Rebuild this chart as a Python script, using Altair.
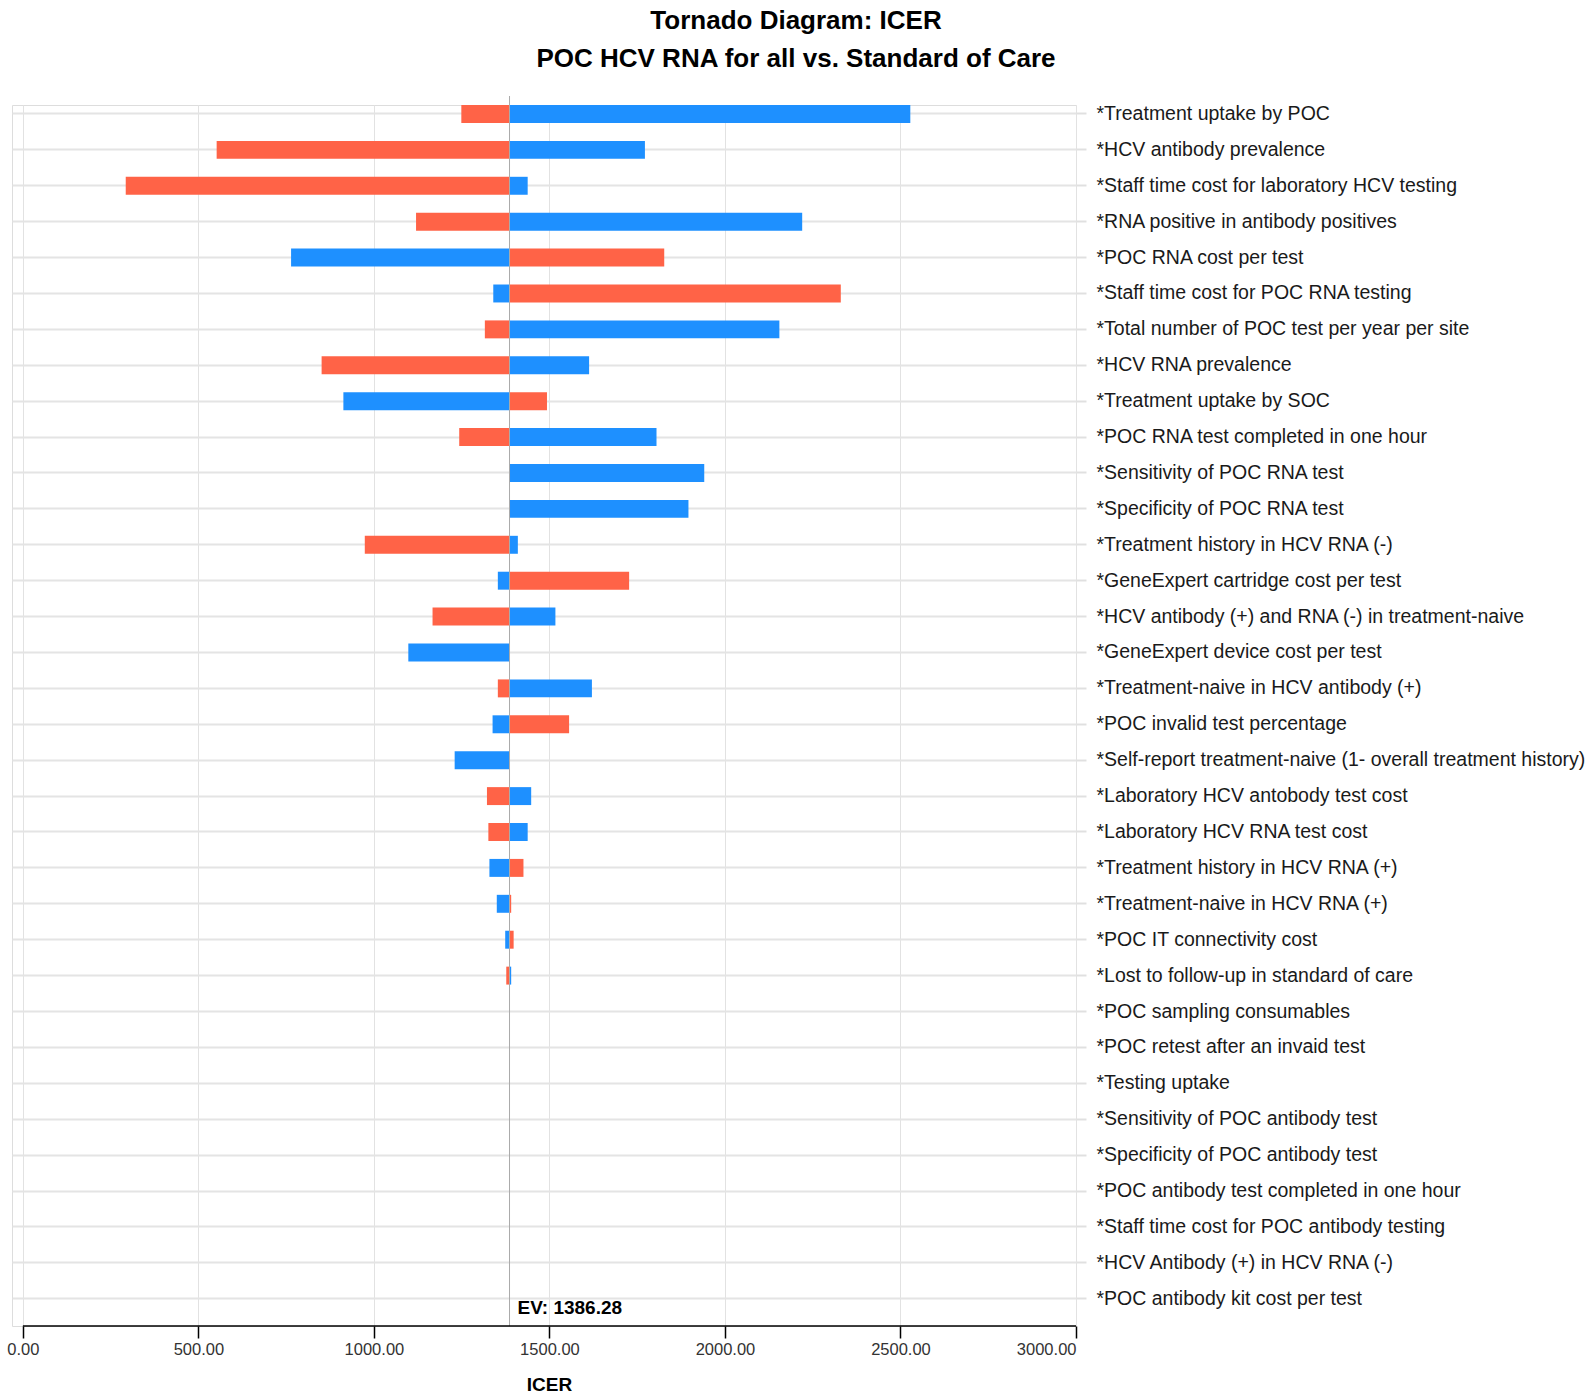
import altair as alt
import pandas as pd

# Expected value of the base case
EV = 1386.28

# Model parameters, top to bottom
params = [
    "*Treatment uptake by POC",
    "*HCV antibody prevalence",
    "*Staff time cost for laboratory HCV testing",
    "*RNA positive in antibody positives",
    "*POC RNA cost per test",
    "*Staff time cost for POC RNA testing",
    "*Total number of POC test per year per site",
    "*HCV RNA prevalence",
    "*Treatment uptake by SOC",
    "*POC RNA test completed in one hour",
    "*Sensitivity of POC RNA test",
    "*Specificity of POC RNA test",
    "*Treatment history in HCV RNA (-)",
    "*GeneExpert cartridge cost per test",
    "*HCV antibody (+) and RNA (-) in treatment-naive",
    "*GeneExpert device cost per test",
    "*Treatment-naive in HCV antibody (+)",
    "*POC invalid test percentage",
    "*Self-report treatment-naive (1- overall treatment history)",
    "*Laboratory HCV antobody test cost",
    "*Laboratory HCV RNA test cost",
    "*Treatment history in HCV RNA (+)",
    "*Treatment-naive in HCV RNA (+)",
    "*POC IT connectivity cost",
    "*Lost to follow-up in standard of care",
    "*POC sampling consumables",
    "*POC retest after an invaid test",
    "*Testing uptake",
    "*Sensitivity of POC antibody test",
    "*Specificity of POC antibody test",
    "*POC antibody test completed in one hour",
    "*Staff time cost for POC antibody testing",
    "*HCV Antibody (+) in HCV RNA (-)",
    "*POC antibody kit cost per test",
]

# ICER at each end of the parameter range (red end / blue end)
icer_red = [
    1249, 552, 293, 1120, 1827, 2330, 1316, 851, 1493, 1243,
    EV, EV, 974, 1727, 1167, EV, 1353, 1556, EV, 1322,
    1326, 1426, 1391, 1398, 1377, EV, EV, EV, EV, EV,
    EV, EV, EV, EV,
]
icer_blue = [
    2528, 1772, 1438, 2220, 764, 1340, 2155, 1613, 913, 1805,
    1941, 1896, 1410, 1353, 1517, 1098, 1621, 1338, 1230, 1448,
    1438, 1329, 1350, 1374, 1391, EV, EV, EV, EV, EV,
    EV, EV, EV, EV,
]

x_ticks = [0, 500, 1000, 1500, 2000, 2500, 3000]

rows = []
for p, r, b in zip(params, icer_red, icer_blue):
    rows.append({"param": p, "end": "red", "value": r, "ev": EV})
    rows.append({"param": p, "end": "blue", "value": b, "ev": EV})
df = pd.DataFrame(rows)

W, H = 1064, 1221
FONT = "Liberation Sans"

x_scale = alt.Scale(domain=[-31, 3000], nice=False, zero=False)

bars = alt.Chart(df).mark_bar().encode(
    x=alt.X(
        "ev:Q",
        scale=x_scale,
        axis=alt.Axis(
            values=x_ticks,
            format=".2f",
            title="ICER",
            domain=False,
            tickColor="black",
            tickSize=12,
            tickWidth=1.5,
            grid=True,
            gridColor="#e2e2e2",
            gridWidth=1,
            labelFont=FONT,
            labelFontSize=16.5,
            labelColor="#333333",
            labelPadding=3,
            titleFont=FONT,
            titleFontSize=19,
            titleFontWeight="bold",
            titleColor="black",
            titleX=537,
            titleY=58,
            titleBaseline="middle",
            titleAlign="center",
        ),
    ),
    x2="value:Q",
    y=alt.Y(
        "param:N",
        sort=params,
        scale=alt.Scale(paddingInner=0.5, paddingOuter=0.255, align=0),
        axis=alt.Axis(
            orient="right",
            title=None,
            domain=False,
            grid=True,
            gridColor="#e4e4e4",
            gridWidth=2,
            tickColor="#e0e0e0",
            tickWidth=2,
            tickSize=10,
            labelPadding=10,
            labelLimit=700,
            labelFont=FONT,
            labelFontSize=19.5,
            labelColor="#1a1a1a",
            labelAlign="left",
        ),
    ),
    color=alt.Color(
        "end:N",
        scale=alt.Scale(domain=["red", "blue"], range=["#FF6347", "#1E90FF"]),
        legend=None,
    ),
)

ev_df = pd.DataFrame({"ev": [EV], "label": [f"EV: {EV:.2f}"]})

ev_rule = alt.Chart(ev_df).mark_rule(color="#aaaaaa", strokeWidth=1).encode(
    x=alt.X("ev:Q", scale=x_scale),
    y=alt.value(-9),
    y2=alt.value(H),
)

ev_text = alt.Chart(ev_df).mark_text(
    align="left", baseline="middle", dx=8, font=FONT, fontSize=19,
    fontWeight="bold", color="black",
).encode(
    x=alt.X("ev:Q", scale=x_scale),
    y=alt.value(H - 18),
    text="label:N",
)

axis_df = pd.DataFrame({"start": [x_ticks[0]], "end": [x_ticks[-1]]})
axis_line = alt.Chart(axis_df).mark_rule(color="black", strokeWidth=1.5).encode(
    x=alt.X("start:Q", scale=x_scale),
    x2="end:Q",
    y=alt.value(H),
)

chart = (
    alt.layer(bars, ev_rule, axis_line, ev_text)
    .properties(
        width=W,
        height=H,
        autosize=alt.AutoSizeParams(type="none"),
        padding={"left": 12, "top": 105, "right": 517, "bottom": 67},
        title=alt.TitleParams(
            text=["Tornado Diagram: ICER", "POC HCV RNA for all vs. Standard of Care"],
            font=FONT,
            fontSize=26,
            fontWeight="bold",
            color="black",
            anchor="middle",
            frame="group",
            dx=252,
            dy=2,
            lineHeight=38,
            baseline="bottom",
            offset=0,
        ),
    )
    .configure_view(stroke="transparent", strokeWidth=0)
    .configure(background="white")
)

chart.save("out.html", embed_options={"renderer": "svg", "actions": False})
